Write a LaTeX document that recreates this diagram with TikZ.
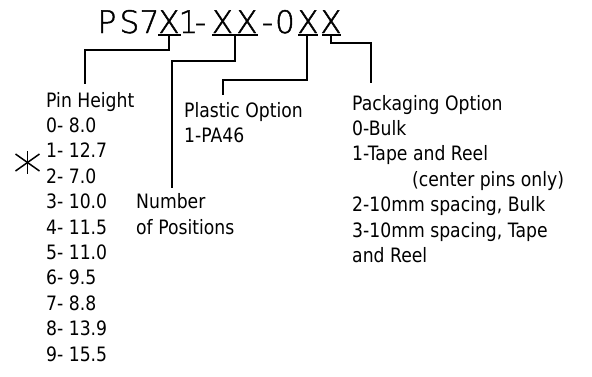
\documentclass[tikz,border=0pt]{standalone}
\usepackage{fontspec}
\setmainfont{DejaVu Sans}[FakeStretch=0.87]
\newfontfamily\titlefont{DejaVu Sans ExtraLight}[FakeStretch=1.0,FakeBold=1.5]
\usetikzlibrary{calc}
\begin{document}
\begin{tikzpicture}[x=1pt,y=-1pt,
  lbl/.style={anchor=base west,inner sep=0pt,font=\fontsize{19.8}{25.4}\selectfont},
  ttl/.style={anchor=base,inner sep=0pt,font=\titlefont\fontsize{31}{30}\selectfont},
  conn/.style={line width=1.7pt},
  uline/.style={line width=1.7pt}]
\useasboundingbox (0,0) rectangle (592,376);
% title characters
\node[ttl] (tP) at (107,33) {P};
\node[ttl] (tS) at (129.5,33) {S};
\node[ttl] (t7) at (149.5,33) {7};
\node[ttl] (tX1) at (169,33) {X};
\node[ttl] (t1) at (188.5,33) {1};
\node[ttl] (td1) at (200.5,33) {-};
\node[ttl] (tX2) at (222.5,33) {X};
\node[ttl] (tX3) at (247,33) {X};
\node[ttl] (td2) at (267.5,33) {-};
\node[ttl] (t0) at (285,33) {0};
\node[ttl] (tX4) at (308,33) {X};
\node[ttl] (tX5) at (331,33) {X};
% underlines
\draw[uline] (158,35) -- (181,35);
\draw[uline] (212,35) -- (258,35);
\draw[uline] (298,35) -- (318,35);
\draw[uline] (322,35) -- (341,35);
\coordinate (u1) at (169,35);
\coordinate (u2) at (235,35);
\coordinate (u3) at (307,35);
\coordinate (u4) at (331,35);
% connector ends
\coordinate (e1) at (85,84);
\coordinate (e2) at (172,188);
\coordinate (e3) at (223,95);
\coordinate (e4) at (371,83);
\draw[conn] (u1) -- (169,50) -| (e1);
\draw[conn] (u2) -- (235,61) -| (e2);
\draw[conn] (u3) -- (307,80) -| (e3);
\draw[conn] (u4) -- (331,43) -| (e4);
% pin height column
\node[lbl] (ph) at (46,107) {Pin Height};
\node[lbl] (p0) at (46,132.4) {0- 8.0};
\node[lbl] (p1) at (46,157.8) {1- 12.7};
\node[lbl] (p2) at (46,183.2) {2- 7.0};
\node[lbl] (p3) at (46,208.6) {3- 10.0};
\node[lbl] (p4) at (46,234) {4- 11.5};
\node[lbl] (p5) at (46,259.4) {5- 11.0};
\node[lbl] (p6) at (46,284.8) {6- 9.5};
\node[lbl] (p7) at (46,310.2) {7- 8.8};
\node[lbl] (p8) at (46,335.6) {8- 13.9};
\node[lbl] (p9) at (46,361) {9- 15.5};
% star
\coordinate (st) at (27.5,162.5);
\draw[line width=1.5pt] ($(st)+(0,-11.5)$) -- ($(st)+(0,11.5)$);
\draw[line width=1.5pt] ($(st)+(-12,-8.5)$) -- ($(st)+(12,8.5)$);
\draw[line width=1.5pt] ($(st)+(-12,8.5)$) -- ($(st)+(12,-8.5)$);
% number of positions
\node[lbl] (np1) at (136,208.6) {Number};
\node[lbl] (np2) at (136,234) {of Positions};
% plastic option
\node[lbl] (po1) at (184,117) {Plastic Option};
\node[lbl] (po2) at (184,142.4) {1-PA46};
% packaging option
\node[lbl] (pk0) at (352,110) {Packaging Option};
\node[lbl] (pk1) at (352,135.4) {0-Bulk};
\node[lbl] (pk2) at (352,160.8) {1-Tape and Reel};
\node[lbl] (pk3) at (412,186.2) {(center pins only)};
\node[lbl] (pk4) at (352,211.6) {2-10mm spacing, Bulk};
\node[lbl] (pk5) at (352,237) {3-10mm spacing, Tape};
\node[lbl] (pk6) at (352,262.4) {and Reel};
\end{tikzpicture}
\end{document}
